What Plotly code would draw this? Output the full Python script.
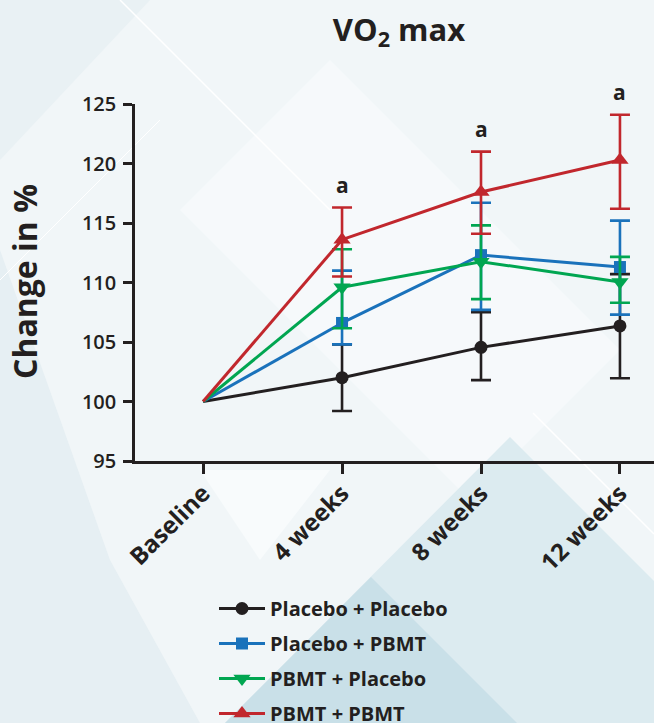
import plotly.graph_objects as go

categories = ["Baseline", "4 weeks", "8 weeks", "12 weeks"]
baseline_value = 100

series_names = ["Placebo + Placebo", "Placebo + PBMT", "PBMT + Placebo", "PBMT + PBMT"]
colors = ["#231f20", "#1a72bb", "#00a651", "#c1272d"]
symbols = ["circle", "square", "triangle-down", "triangle-up"]
marker_sizes = [13, 12, 15, 15]

# values at 4, 8, 12 weeks
placebo_placebo = [102.0, 104.55, 106.35]
placebo_pbmt = [106.6, 112.3, 111.3]
pbmt_placebo = [109.6, 111.75, 110.05]
pbmt_pbmt = [113.6, 117.6, 120.3]

placebo_placebo_err_up = [2.8, 2.95, 4.35]
placebo_placebo_err_dn = [2.8, 2.75, 4.4]
placebo_pbmt_err_up = [4.4, 4.4, 3.9]
placebo_pbmt_err_dn = [1.8, 4.6, 4.0]
pbmt_placebo_err_up = [3.2, 3.05, 2.1]
pbmt_placebo_err_dn = [3.45, 3.15, 1.75]
pbmt_pbmt_err_up = [2.7, 3.4, 3.8]
pbmt_pbmt_err_dn = [3.1, 3.5, 4.1]

significance_labels = ["a", "a", "a"]

values = [placebo_placebo, placebo_pbmt, pbmt_placebo, pbmt_pbmt]
errs_up = [placebo_placebo_err_up, placebo_pbmt_err_up, pbmt_placebo_err_up, pbmt_pbmt_err_up]
errs_dn = [placebo_placebo_err_dn, placebo_pbmt_err_dn, pbmt_placebo_err_dn, pbmt_pbmt_err_dn]

ytick_vals = [95, 100, 105, 110, 115, 120, 125]

FONT = "Open Sans"
TXT = "#231f20"

W, H = 654, 723
ML, MR, MT, MB = 135, 0, 104, 262
PW, PH = W - ML - MR, H - MT - MB


def px(x):
    return (x - ML) / PW


def py(y):
    return (H - MB - y) / PH


fig = go.Figure()

for name, col, sym, ms, v, eu, ed in zip(series_names, colors, symbols, marker_sizes, values, errs_up, errs_dn):
    # connecting line from baseline (no marker there)
    fig.add_trace(go.Scatter(
        x=[categories[0], categories[1]], y=[baseline_value, v[0]],
        mode="lines", line=dict(color=col, width=3),
        showlegend=False, hoverinfo="skip",
    ))
    fig.add_trace(go.Scatter(
        x=categories[1:], y=v, name=name, legendgroup=name,
        mode="lines+markers",
        line=dict(color=col, width=3),
        marker=dict(symbol=sym, size=ms, color=col),
        error_y=dict(type="data", symmetric=False, array=eu, arrayminus=ed,
                     color=col, thickness=2.6, width=10),
    ))

# significance letters above the PBMT + PBMT error bars
for cat, v, e, lab in zip(categories[1:], pbmt_pbmt, pbmt_pbmt_err_up, significance_labels):
    fig.add_annotation(x=cat, y=v + e, text=lab, showarrow=False, yshift=23,
                       yanchor="middle", font=dict(family=FONT, size=21, color=TXT, weight="bold"))

# y axis title
fig.add_annotation(xref="paper", yref="paper", x=px(24), y=py(282), text="Change in %",
                   textangle=-90, showarrow=False, xanchor="center", yanchor="middle",
                   font=dict(family=FONT, size=32, color=TXT, weight="bold"))


# decorative background
def poly(pts, color):
    path = "M " + " L ".join(f"{px(x):.4f},{py(y):.4f}" for x, y in pts) + " Z"
    return dict(type="path", xref="paper", yref="paper", path=path,
                fillcolor=color, line=dict(width=0), layer="below")


def wline(p0, p1, w=1.5):
    return dict(type="line", xref="paper", yref="paper",
                x0=px(p0[0]), y0=py(p0[1]), x1=px(p1[0]), y1=py(p1[1]),
                line=dict(color="#ffffff", width=w), layer="below")


shapes = [
    poly([(0, 0), (654, 0), (654, 723), (0, 723)], "#f1f6f8"),
    poly([(0, 0), (150, 0), (0, 160)], "#e9f1f4"),
    poly([(0, 250), (0, 723), (200, 723), (110, 560)], "#e6eff3"),
    poly([(330, 60), (620, 350), (470, 500), (180, 210)], "#f6f9fb"),
    poly([(200, 470), (330, 470), (260, 560)], "#f8fbfc"),
    poly([(225, 723), (510, 437), (654, 581), (654, 723)], "#dcebf0"),
    poly([(225, 723), (371, 577), (517, 723)], "#c9e0e8"),
    wline((120, 0), (330, 210)),
    wline((0, 280), (160, 120), 1),
    wline((533, 413), (654, 534)),
]

fig.update_layout(
    width=W, height=H,
    margin=dict(l=ML, r=MR, t=MT, b=MB, autoexpand=False),
    paper_bgcolor="#f1f6f8",
    plot_bgcolor="rgba(0,0,0,0)",
    shapes=shapes,
    title=dict(text="VO<sub>2</sub> max", x=px(399), xref="paper", xanchor="center",
               y=1 - 30 / H, yref="container", yanchor="middle",
               font=dict(family=FONT, size=31, color=TXT, weight="bold")),
    xaxis=dict(
        type="category", categoryorder="array", categoryarray=categories,
        range=[-0.49, 3.245], showgrid=False, zeroline=False,
        showline=True, linecolor=TXT, linewidth=2.6,
        ticks="outside", ticklen=10, tickwidth=2.6, tickcolor=TXT,
        ticklabelstandoff=-4,
        tickangle=-45, tickfont=dict(family=FONT, size=24, color=TXT, weight="bold"),
    ),
    yaxis=dict(
        range=[95, 125], tickvals=ytick_vals, showgrid=False, zeroline=False,
        showline=True, linecolor=TXT, linewidth=2.6,
        ticks="outside", ticklen=9, tickwidth=2.6, tickcolor=TXT,
        ticklabelstandoff=3,
        tickfont=dict(family=FONT, size=20, color=TXT, weight=600),
    ),
    showlegend=True,
    legend=dict(
        xref="container", yref="container",
        x=214 / W, y=1 - 589 / H, xanchor="left", yanchor="top",
        bgcolor="rgba(0,0,0,0)", itemwidth=46, tracegroupgap=6,
        font=dict(family=FONT, size=20, color=TXT, weight="bold"),
        traceorder="grouped",
    ),
)

fig.write_html("out.html", config={"displayModeBar": False},
               post_script="document.body.style.margin='0';")
